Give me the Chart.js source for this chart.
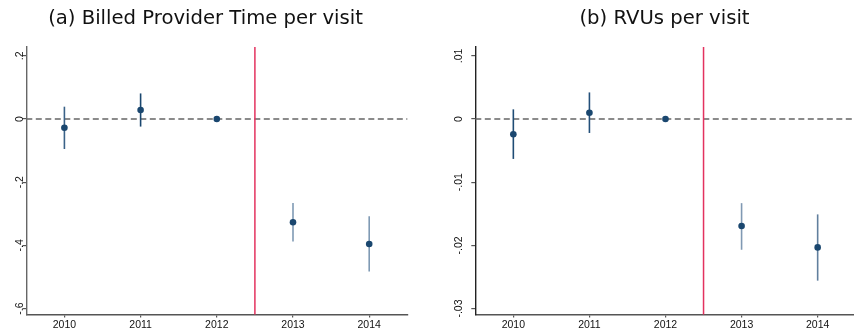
<!DOCTYPE html>
<html>
<head>
<meta charset="utf-8">
<script src="https://cdn.jsdelivr.net/npm/chart.js@4.4.1/dist/chart.umd.min.js"></script>
<style>
  html, body { margin: 0; padding: 0; background: #fff; }
  #wrap { position: relative; width: 854px; height: 331px; overflow: hidden; background: #fff; }
  .panel { position: absolute; top: 0; height: 331px; }
</style>
</head>
<body>
<div id="wrap">
  <div class="panel" style="left:0;width:427px"><canvas id="c1" width="427" height="331"></canvas></div>
  <div class="panel" style="left:427px;width:432px"><canvas id="c2" width="432" height="331"></canvas></div>
</div>
<script>
// ---------------- data ----------------
const years = [2010, 2011, 2012, 2013, 2014];
const policyYear = 2012.5;

const titleA = '(a) Billed Provider Time per visit';
const timeCoef = [-0.0275, 0.0285, 0, -0.327, -0.396];
const timeLo   = [-0.095, -0.024, 0, -0.388, -0.483];
const timeHi   = [0.039, 0.081, 0, -0.266, -0.308];
const timeTicks = [-0.6, -0.4, -0.2, 0, 0.2];
const timeTickLabels = ['-.6', '-.4', '-.2', '0', '.2'];

const titleB = '(b) RVUs per visit';
const rvuCoef = [-0.00242, 0.0010, 0, -0.01695, -0.02033];
const rvuLo   = [-0.00632, -0.00221, 0, -0.0207, -0.02559];
const rvuHi   = [0.00153, 0.00421, 0, -0.01332, -0.0151];
const rvuTicks = [-0.03, -0.02, -0.01, 0, 0.01];
const rvuTickLabels = ['-.03', '-.02', '-.01', '0', '.01'];

// ---------------- styling ----------------
const navy = '#1a476f';
const barColorsA = ['#3a6288', '#1a476f', '#1a476f', '#7f9ab4', '#7f9ab4'];
const barColorsB = ['#1f4c75', '#24507a', '#1a476f', '#8099b3', '#617f9d'];
const axisColor = '#555555';
const titleFamily = '"DejaVu Sans", sans-serif';

// title font size chosen so that title (a) spans ~315px like the reference
let titleSize = 17;
(function () {
  const c = document.createElement('canvas').getContext('2d');
  c.font = '17px ' + titleFamily;
  const w = c.measureText(titleA).width;
  if (w > 0) titleSize = 17 * 315 / w;
})();

function makeChart(canvas, cfg) {
  const pts = years.map((y, i) => ({ x: y, y: cfg.coef[i] }));
  const decor = {
    id: 'decor',
    beforeDatasetsDraw(chart) {
      const ctx = chart.ctx, xs = chart.scales.x, ys = chart.scales.y, a = chart.chartArea;
      ctx.save();
      // dashed zero line
      ctx.strokeStyle = '#666666';
      ctx.lineWidth = 1.5;
      ctx.setLineDash([6, 3.5]);
      const y0 = ys.getPixelForValue(0);
      ctx.beginPath(); ctx.moveTo(a.left, y0); ctx.lineTo(a.right, y0); ctx.stroke();
      ctx.setLineDash([]);
      // red policy line
      const xp = xs.getPixelForValue(policyYear);
      ctx.strokeStyle = '#e3325f';
      ctx.lineWidth = 1.5;
      ctx.beginPath(); ctx.moveTo(xp, a.top); ctx.lineTo(xp, a.bottom); ctx.stroke();
      // confidence intervals
      ctx.lineWidth = 1.6;
      years.forEach((yr, i) => {
        const x = xs.getPixelForValue(yr);
        ctx.strokeStyle = cfg.barColors[i];
        ctx.beginPath();
        ctx.moveTo(x, ys.getPixelForValue(cfg.hi[i]));
        ctx.lineTo(x, ys.getPixelForValue(cfg.lo[i]));
        ctx.stroke();
      });
      ctx.restore();
    },
    afterDraw(chart) {
      const ctx = chart.ctx, ys = chart.scales.y;
      ctx.save();
      // y tick labels (rotated)
      ctx.fillStyle = '#111';
      ctx.font = '10.5px "Liberation Sans", Arial, sans-serif';
      ctx.textAlign = 'center';
      ctx.textBaseline = 'middle';
      cfg.ticks.forEach((v, i) => {
        const y = ys.getPixelForValue(v);
        ctx.save();
        ctx.translate(cfg.labelX, y);
        ctx.rotate(-Math.PI / 2);
        ctx.fillText(cfg.tickLabels[i], 0, 0);
        ctx.restore();
      });
      // title
      ctx.fillStyle = '#111';
      ctx.font = titleSize.toFixed(2) + 'px ' + titleFamily;
      ctx.textAlign = 'center';
      ctx.textBaseline = 'alphabetic';
      ctx.fillText(cfg.title, cfg.titleX, 24);
      ctx.restore();
    }
  };
  return new Chart(canvas, {
    type: 'scatter',
    data: {
      datasets: [{
        data: pts,
        backgroundColor: navy,
        borderColor: navy,
        pointRadius: 3.3,
        pointHoverRadius: 3.3,
        borderWidth: 0
      }]
    },
    options: {
      responsive: false,
      animation: false,
      events: [],
      layout: { padding: { top: 47, left: 0, right: cfg.padRight, bottom: 0 } },
      plugins: { legend: { display: false }, tooltip: { enabled: false }, title: { display: false } },
      scales: {
        x: {
          type: 'linear',
          min: 2009.5,
          max: 2014.5,
          afterBuildTicks: s => { s.ticks = years.map(v => ({ value: v })); },
          afterFit: s => { s.height = 16.5; },
          ticks: {
            color: '#111',
            font: { family: '"Liberation Sans", Arial, sans-serif', size: 10.5 },
            padding: 1,
            maxRotation: 0,
            callback: v => String(v)
          },
          grid: { display: true, drawOnChartArea: false, drawTicks: true, tickLength: 3, color: axisColor, lineWidth: 1.2 },
          border: { display: true, color: axisColor, width: 1.4 }
        },
        y: {
          type: 'linear',
          min: cfg.ymin,
          max: cfg.ymax,
          afterBuildTicks: s => { s.ticks = cfg.ticks.map(v => ({ value: v })); },
          afterFit: s => { s.width = cfg.axisX; },
          ticks: { display: false },
          grid: { display: true, drawOnChartArea: false, drawTicks: true, tickLength: 4, color: axisColor, lineWidth: 1.2 },
          border: { display: true, color: cfg.yAxisColor, width: 1.4 }
        }
      }
    },
    plugins: [decor]
  });
}

makeChart(document.getElementById('c1'), {
  coef: timeCoef, lo: timeLo, hi: timeHi,
  ticks: timeTicks, tickLabels: timeTickLabels,
  ymin: -0.619, ymax: 0.228,
  axisX: 26.3, padRight: 19.7, labelX: 20.5,
  barColors: barColorsA, yAxisColor: '#666666',
  title: titleA, titleX: 205.5
});
makeChart(document.getElementById('c2'), {
  coef: rvuCoef, lo: rvuLo, hi: rvuHi,
  ticks: rvuTicks, tickLabels: rvuTickLabels,
  ymin: -0.03095, ymax: 0.0114,
  axisX: 48.3, padRight: 2.7, labelX: 32.5,
  barColors: barColorsB, yAxisColor: '#222222',
  title: titleB, titleX: 237.5
});
</script>
</body>
</html>
